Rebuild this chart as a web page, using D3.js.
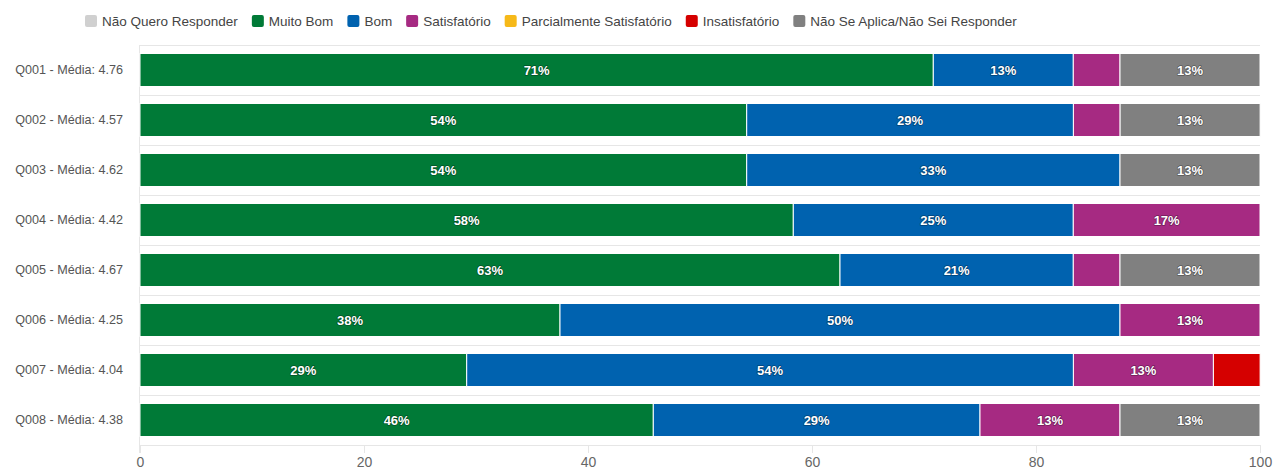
<!DOCTYPE html>
<html>
<head>
<meta charset="utf-8">
<script src="https://cdn.jsdelivr.net/npm/d3@7"></script>
<style>
  body { margin: 0; background: #fff; }
  svg { font-family: "Liberation Sans", Arial, sans-serif; }
  .seg-label { fill: #fff; font-weight: bold; font-size: 13px; paint-order: stroke; stroke: rgba(0,0,0,0.35); stroke-width: 1.5px; stroke-linejoin: round; }
</style>
</head>
<body>
<svg id="chart"></svg>
<script>
(function() {

// categories and averages
const questions = ["Q001", "Q002", "Q003", "Q004", "Q005", "Q006", "Q007", "Q008"];
const averages = ["4.76", "4.57", "4.62", "4.42", "4.67", "4.25", "4.04", "4.38"];

// percentages per answer
const naoQuero      = [0, 0, 0, 0, 0, 0, 0, 0];
const muitoBom      = [70.83, 54.17, 54.17, 58.33, 62.5, 37.5, 29.17, 45.83];
const bom           = [12.5, 29.17, 33.33, 25, 20.83, 50, 54.17, 29.17];
const satisfatorio  = [4.17, 4.17, 0, 16.67, 4.17, 12.5, 12.5, 12.5];
const parcialmente  = [0, 0, 0, 0, 0, 0, 0, 0];
const insatisfatorio = [0, 0, 0, 0, 0, 0, 4.17, 0];
const naoSeAplica   = [12.5, 12.5, 12.5, 0, 12.5, 0, 0, 12.5];

const xTicks = [0, 20, 40, 60, 80, 100];

const series = [
    {name: "Não Quero Responder", values: naoQuero, color: "#d0d0d0"},
    {name: "Muito Bom", values: muitoBom, color: "#007a37"},
    {name: "Bom", values: bom, color: "#0062af"},
    {name: "Satisfatório", values: satisfatorio, color: "#a62a82"},
    {name: "Parcialmente Satisfatório", values: parcialmente, color: "#f6b919"},
    {name: "Insatisfatório", values: insatisfatorio, color: "#d50000"},
    {name: "Não Se Aplica/Não Sei Responder", values: naoSeAplica, color: "#808080"}
];

const width = 1275;
const height = 469;
const margin = {top: 45, right: 15, bottom: 24, left: 140};

const svg = d3.select("#chart")
    .attr("width", width)
    .attr("height", height);

const rows = questions.map((q, i) => {
    const row = {q: q};
    series.forEach(s => row[s.name] = s.values[i]);
    return row;
});

const stacked = d3.stack().keys(series.map(s => s.name))(rows);

const x = d3.scaleLinear()
    .domain([0, 100])
    .range([margin.left, width - margin.right]);

const y = d3.scaleBand()
    .domain(questions)
    .range([margin.top, height - margin.bottom])
    .paddingInner(0.34)
    .paddingOuter(0.17);

// horizontal grid lines at category boundaries
const step = y.step();
const gridYs = d3.range(questions.length + 1).map(i => margin.top + i * step);
svg.append("g")
    .selectAll("line")
    .data(gridYs)
    .join("line")
    .attr("x1", x(0))
    .attr("x2", x(100))
    .attr("y1", d => Math.round(d) + 0.5)
    .attr("y2", d => Math.round(d) + 0.5)
    .attr("stroke", "#e6e6e6");

// left axis line
svg.append("line")
    .attr("x1", x(0) - 0.5).attr("x2", x(0) - 0.5)
    .attr("y1", margin.top).attr("y2", height - margin.bottom + 8)
    .attr("stroke", "#e6e6e6");

// bottom axis
const xAxis = svg.append("g")
    .attr("transform", `translate(0,${height - margin.bottom})`)
    .call(d3.axisBottom(x).tickValues(xTicks).tickSize(8).tickPadding(4));
xAxis.select(".domain").remove();
xAxis.selectAll(".tick line").attr("stroke", "#e6e6e6");
xAxis.selectAll(".tick text")
    .attr("fill", "#666")
    .attr("font-size", "14px")
    .attr("font-family", "Liberation Sans, Arial, sans-serif");

// category labels
svg.append("g")
    .selectAll("text")
    .data(questions)
    .join("text")
    .attr("x", margin.left - 17)
    .attr("y", d => y(d) + y.bandwidth() / 2)
    .attr("dy", "0.35em")
    .attr("text-anchor", "end")
    .attr("font-size", "12.6px")
    .attr("fill", "#555")
    .text((d, i) => `${d} - Média: ${averages[i]}`);

// bar segments
const layers = svg.append("g")
    .selectAll("g")
    .data(stacked)
    .join("g")
    .attr("fill", (d, i) => series[i].color);

layers.selectAll("rect")
    .data(d => d.filter(p => p[1] - p[0] > 0))
    .join("rect")
    .attr("x", d => x(d[0]))
    .attr("y", d => y(d.data.q))
    .attr("width", d => x(d[1]) - x(d[0]))
    .attr("height", y.bandwidth())
    .attr("stroke", "#fff")
    .attr("stroke-width", 1);

layers.selectAll("text")
    .data(d => d.filter(p => p[1] - p[0] >= 8))
    .join("text")
    .attr("class", "seg-label")
    .attr("x", d => (x(d[0]) + x(d[1])) / 2)
    .attr("y", d => y(d.data.q) + y.bandwidth() / 2)
    .attr("dy", "0.35em")
    .attr("text-anchor", "middle")
    .text(d => Math.round(d[1] - d[0]) + "%");

// legend
const legend = svg.append("g").attr("transform", "translate(85,21)");
let lx = 0;
series.forEach(s => {
    const item = legend.append("g").attr("transform", `translate(${lx},0)`);
    item.append("rect")
        .attr("x", 0).attr("y", -6)
        .attr("width", 12).attr("height", 12)
        .attr("rx", 2)
        .attr("fill", s.color);
    const t = item.append("text")
        .attr("x", 17)
        .attr("dy", "0.35em")
        .attr("font-size", "13.5px")
        .attr("fill", "#444")
        .text(s.name);
    lx += 17 + t.node().getComputedTextLength() + 14;
});

})();
</script>
</body>
</html>
